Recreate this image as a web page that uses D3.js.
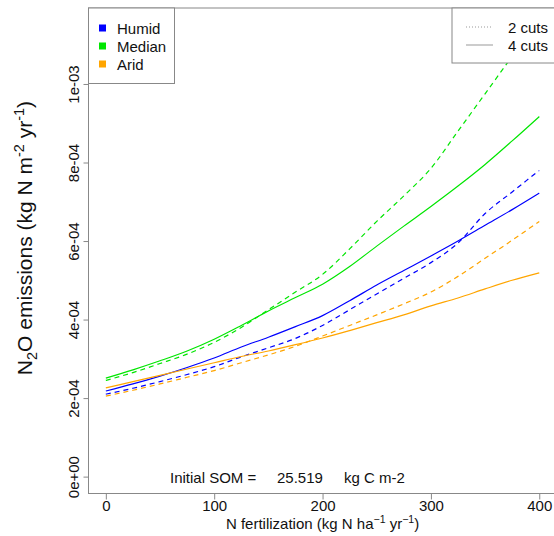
<!DOCTYPE html>
<html><head><meta charset="utf-8">
<script src="https://cdn.jsdelivr.net/npm/d3@7"></script>
<style>body{margin:0;background:#fff}svg{display:block;font-family:"Liberation Sans",Arial,sans-serif}</style>
</head><body><svg id="c" width="554" height="536"></svg>
<script>
const nFert = [0,25,50,75,100,125,150,175,200,225,250,275,300,325,350,375,400];
const regions = ["Humid","Median","Arid"];
const regionColors = ["#0000ff","#00e600","#ffa500"];
const cutLabels = ["2 cuts","4 cuts"];
// values in 1e-4 kg N m-2 yr-1
const humid2 = [2.10,2.25,2.42,2.60,2.80,3.05,3.28,3.52,3.85,4.25,4.65,5.05,5.45,5.95,6.70,7.25,7.80];
const humid4 = [2.18,2.36,2.56,2.78,3.02,3.30,3.55,3.82,4.10,4.48,4.88,5.25,5.62,6.00,6.40,6.80,7.22];
const median2 = [2.45,2.65,2.88,3.12,3.42,3.80,4.25,4.70,5.15,5.80,6.50,7.15,7.85,8.80,9.75,10.70,11.60];
const median4 = [2.51,2.72,2.95,3.20,3.50,3.85,4.22,4.56,4.90,5.35,5.87,6.38,6.88,7.40,7.95,8.55,9.17];
const arid2 = [2.05,2.20,2.36,2.53,2.70,2.90,3.10,3.32,3.58,3.85,4.12,4.40,4.70,5.10,5.56,6.02,6.50];
const arid4 = [2.26,2.42,2.58,2.74,2.90,3.06,3.20,3.36,3.53,3.72,3.92,4.12,4.35,4.55,4.78,5.00,5.19];
const xTicks = [0,100,200,300,400];
const yTicks = [0,2e-4,4e-4,6e-4,8e-4,1e-3];
const yTickLabels = ["0e+00","2e-04","4e-04","6e-04","8e-04","1e-03"];
const initialSOM = "25.519";

const series = [
  {v:humid2, c:0, dash:true},{v:humid4, c:0, dash:false},
  {v:median2, c:1, dash:true},{v:median4, c:1, dash:false},
  {v:arid2, c:2, dash:true},{v:arid4, c:2, dash:false}
];

const svg = d3.select("#c");
const L = 88.5, R = 556.6, T = 8, B = 493.5;
const x = d3.scaleLinear().domain([-16,416]).range([L,R]);
const y = d3.scaleLinear().domain([-4.3e-5,1.1935e-3]).range([B,T]);
const gray = "#888";

svg.append("clipPath").attr("id","clip").append("rect")
  .attr("x",L).attr("y",T).attr("width",R-L).attr("height",B-T);

const line = d3.line().x((d,i)=>x(nFert[i])).y(d=>y(d*1e-4)).curve(d3.curveMonotoneX);
const g = svg.append("g").attr("clip-path","url(#clip)");
series.forEach(s=>{
  g.append("path").attr("d",line(s.v)).attr("fill","none")
   .attr("stroke",regionColors[s.c]).attr("stroke-width",1.2)
   .attr("stroke-dasharray",s.dash?"5,4":null);
});

// box
svg.append("rect").attr("x",L).attr("y",T).attr("width",R-L).attr("height",B-T)
  .attr("fill","none").attr("stroke",gray).attr("stroke-width",1);

// axes
const xa = svg.append("g").attr("transform",`translate(0,${B})`)
  .call(d3.axisBottom(x).tickValues(xTicks).tickSize(6).tickPadding(1).tickFormat(d3.format("d")));
xa.select(".domain").remove();
xa.selectAll("line").attr("stroke",gray);
xa.selectAll("text").attr("font-size",15).attr("fill","#111").attr("font-family","Liberation Sans, Arial, sans-serif");

const ya = svg.append("g").attr("transform",`translate(${L},0)`)
  .call(d3.axisLeft(y).tickValues(yTicks).tickSize(5).tickFormat((d,i)=>yTickLabels[i]));
ya.select(".domain").remove();
ya.selectAll("line").attr("stroke",gray);
ya.selectAll("text").attr("font-size",15).attr("fill","#111").attr("font-family","Liberation Sans, Arial, sans-serif")
  .attr("x",null).attr("dy",null)
  .attr("transform","translate(-10,0) rotate(-90)").attr("text-anchor","middle").attr("y",0);

// axis titles
const xt = svg.append("text").attr("x",(L+R)/2).attr("y",529).attr("text-anchor","middle")
  .attr("font-size",15).attr("fill","#111");
xt.append("tspan").text("N fertilization (kg N ha");
xt.append("tspan").attr("font-size",10.5).attr("dy",-6).text("\u22121");
xt.append("tspan").attr("dy",6).text(" yr");
xt.append("tspan").attr("font-size",10.5).attr("dy",-6).text("\u22121");
xt.append("tspan").attr("dy",6).text(")");

const yt = svg.append("text").attr("transform",`translate(32,238) rotate(-90)`)
  .attr("text-anchor","middle").attr("font-size",21).attr("fill","#111");
yt.append("tspan").text("N");
yt.append("tspan").attr("font-size",14.5).attr("dy",5).text("2");
yt.append("tspan").attr("dy",-5).text("O emissions (kg N m");
yt.append("tspan").attr("font-size",14.5).attr("dy",-8).text("-2");
yt.append("tspan").attr("dy",8).text(" yr");
yt.append("tspan").attr("font-size",14.5).attr("dy",-8).text("-1");
yt.append("tspan").attr("dy",8).text(")");

// annotation
const ann = svg.append("g").attr("font-size",15).attr("fill","#111");
ann.append("text").attr("x",170).attr("y",483).text("Initial SOM =");
ann.append("text").attr("x",277).attr("y",483).text(initialSOM);
ann.append("text").attr("x",344).attr("y",483).text("kg C m-2");

// legend regions
const lg1 = svg.append("g");
lg1.append("rect").attr("x",L).attr("y",T).attr("width",86).attr("height",75.5)
  .attr("fill","#fff").attr("stroke",gray);
regions.forEach((r,i)=>{
  const cy = 28 + i*18;
  lg1.append("rect").attr("x",99).attr("y",cy-3.5).attr("width",7).attr("height",7).attr("fill",regionColors[i]);
  lg1.append("text").attr("x",117).attr("y",cy+5.5).attr("font-size",15).attr("fill","#111").text(r);
});
// legend cuts
const lg2 = svg.append("g");
lg2.append("rect").attr("x",452).attr("y",T).attr("width",R-452).attr("height",55)
  .attr("fill","#fff").attr("stroke",gray);
cutLabels.forEach((c,i)=>{
  const cy = 27 + i*18;
  lg2.append("line").attr("x1",466).attr("x2",493).attr("y1",cy).attr("y2",cy)
    .attr("stroke","#999").attr("stroke-width",1).attr("stroke-dasharray",i===0?"1,2":null);
  lg2.append("text").attr("x",508).attr("y",cy+5.5).attr("font-size",15).attr("fill","#111").text(c);
});
</script></body></html>
